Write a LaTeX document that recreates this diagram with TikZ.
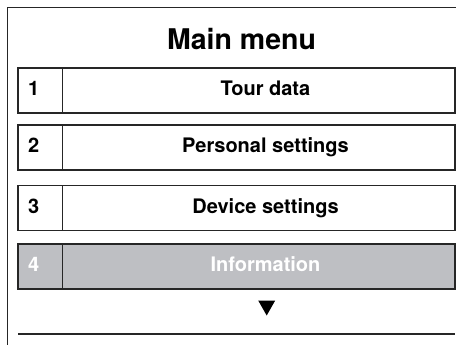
\documentclass[tikz,border=0pt]{standalone}
\usepackage{fontspec}
\setmainfont{TeX Gyre Heros}
\begin{document}
\begin{tikzpicture}[x=1bp,y=-1bp,
  frameline/.style={draw=black!85,line width=1.2bp},
  rowbox/.style={frameline,rectangle,inner sep=0pt,minimum height=45bp,minimum width=437bp,fill=white},
  numcell/.style={rectangle,inner sep=0pt,minimum height=45bp,minimum width=45bp},
  label/.style={font=\bfseries\fontsize{20bp}{22bp}\selectfont,anchor=base,inner sep=0pt},
  numlabel/.style={font=\bfseries\fontsize{20bp}{22bp}\selectfont,anchor=base west,inner sep=0pt},
  selbox/.style={fill={rgb,255:red,190;green,191;blue,195}},
]
\useasboundingbox (0,0) rectangle (456,344);
% outer frame (top and left)
\coordinate (ftr) at (457,7.7);
\coordinate (ftl) at (7.7,7.7);
\coordinate (fbl) at (7.7,345);
\draw[frameline] (ftr) -- (ftl) -- (fbl);
% title
\node[font=\bfseries\fontsize{28.5bp}{32bp}\selectfont,anchor=base,inner sep=0pt] (title) at (241.5,49.3) {Main menu};
% rows
\foreach \i/\yc/\sty in {1/90.5/,2/147.5/,3/208/,4/266.5/selbox}{
  \node[rowbox,\sty] (row\i) at (236.5,\yc) {};
  \node[numcell,anchor=west] (num\i) at (row\i.west) {};
  \draw[frameline] (num\i.north east) -- (num\i.south east);
}
\node[numlabel] (n1) at (28,95.5) {1};
\node[label] (t1) at (265.5,95.5) {Tour data};
\node[numlabel] (n2) at (28,152.5) {2};
\node[label] (t2) at (265.5,152.5) {Personal settings};
\node[numlabel] (n3) at (28,213) {3};
\node[label] (t3) at (265.5,213) {Device settings};
\node[numlabel,text=white] (n4) at (28,271.5) {4};
\node[label,text=white] (t4) at (265.5,271.5) {Information};
% scroll triangle
\fill (258.2,300.5) -- (275.2,300.5) -- (266.7,315.5) -- cycle;
% bottom line
\coordinate (bl) at (18,334);
\coordinate (br) at (455,334);
\draw[frameline] (bl) -- (br);
\end{tikzpicture}
\end{document}
